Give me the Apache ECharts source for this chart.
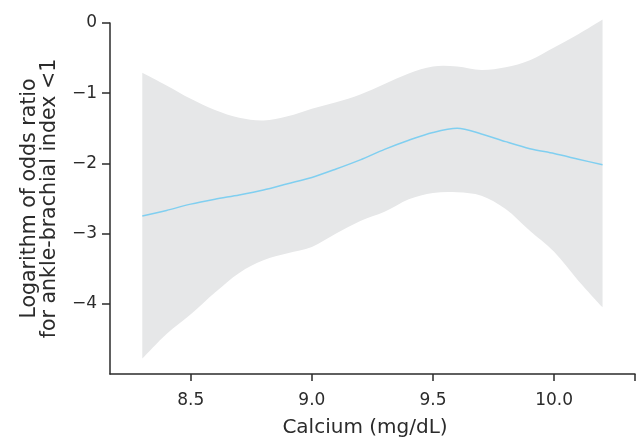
<!DOCTYPE html>
<html>
<head>
<meta charset="utf-8">
<script src="https://cdn.jsdelivr.net/npm/echarts@6/dist/echarts.min.js"></script>
<style>
html, body { margin: 0; padding: 0; background: #fff; }
#chart { width: 638px; height: 442px; }
</style>
</head>
<body>
<div id="chart"></div>
<script>
// calcium values (mg/dL)
var calcium = [8.3, 8.4, 8.5, 8.6, 8.7, 8.8, 8.9, 9.0, 9.1, 9.2, 9.3, 9.4, 9.5, 9.6, 9.7, 9.8, 9.9, 10.0, 10.1, 10.2];
// log odds estimate
var logOdds = [-2.75, -2.67, -2.58, -2.51, -2.45, -2.38, -2.29, -2.20, -2.08, -1.95, -1.80, -1.67, -1.56, -1.50, -1.58, -1.69, -1.79, -1.86, -1.94, -2.02];
// confidence band
var upper = [-0.71, -0.89, -1.08, -1.24, -1.35, -1.39, -1.33, -1.22, -1.13, -1.02, -0.87, -0.72, -0.62, -0.62, -0.67, -0.63, -0.53, -0.35, -0.16, 0.05];
var lower = [-4.78, -4.43, -4.15, -3.84, -3.56, -3.38, -3.28, -3.19, -3.00, -2.82, -2.69, -2.51, -2.42, -2.41, -2.46, -2.65, -2.96, -3.26, -3.67, -4.05];
var xTicks = [8.5, 9.0, 9.5, 10.0];
var yTicks = [0, -1, -2, -3, -4];

var font = 'DejaVu Sans, sans-serif';
var axisColor = '#2b2b2b';

var chart = echarts.init(document.getElementById('chart'));

// catmull-rom edge as bezier segments (pixel points come from api.coord)
function curve(pts) {
    var s = '';
    for (var i = 0; i < pts.length - 1; i++) {
        var p0 = pts[Math.max(i - 1, 0)], p1 = pts[i], p2 = pts[i + 1], p3 = pts[Math.min(i + 2, pts.length - 1)];
        var c1 = [p1[0] + (p2[0] - p0[0]) / 6, p1[1] + (p2[1] - p0[1]) / 6];
        var c2 = [p2[0] - (p3[0] - p1[0]) / 6, p2[1] - (p3[1] - p1[1]) / 6];
        s += ' C' + c1[0] + ',' + c1[1] + ' ' + c2[0] + ',' + c2[1] + ' ' + p2[0] + ',' + p2[1];
    }
    return s;
}

chart.setOption({
    backgroundColor: '#fff',
    animation: false,
    grid: {
        left: 110,
        right: 3,
        top: 23,
        bottom: 68,
        containLabel: false,
        outerBoundsMode: 'none'
    },
    xAxis: {
        type: 'value',
        min: 8.1667,
        max: 10.334,
        name: 'Calcium (mg/dL)',
        nameLocation: 'middle',
        nameGap: 44,
        nameTextStyle: { fontFamily: font, fontSize: 20, color: axisColor, padding: [0, 15, 0, 0] },
        axisLine: { onZero: false, lineStyle: { color: axisColor, width: 1.5 } },
        axisTick: {
            show: true,
            length: 7,
            customValues: xTicks.concat([10.333]),
            lineStyle: { color: axisColor, width: 1.5 }
        },
        axisLabel: {
            customValues: xTicks,
            margin: 18,
            fontFamily: font,
            fontSize: 17,
            color: axisColor,
            formatter: function (v) { return v.toFixed(1); }
        },
        splitLine: { show: false }
    },
    yAxis: {
        type: 'value',
        min: -5,
        max: 0,
        name: 'Logarithm of odds ratio\nfor ankle-brachial index <1',
        nameLocation: 'middle',
        nameGap: 50,
        nameTextStyle: { fontFamily: font, fontSize: 20.5, color: axisColor, lineHeight: 20 },
        axisLine: { show: true, onZero: false, lineStyle: { color: axisColor, width: 1.5 } },
        axisTick: {
            show: true,
            length: 8,
            customValues: yTicks,
            lineStyle: { color: axisColor, width: 1.5 }
        },
        axisLabel: {
            customValues: yTicks,
            margin: 13,
            fontFamily: font,
            fontSize: 17,
            color: axisColor,
            formatter: function (v) { return v < 0 ? '\u2212' + Math.abs(v) : String(v); }
        },
        splitLine: { show: false }
    },
    series: [
        {
            name: 'band',
            type: 'custom',
            data: [0],
            renderItem: function (params, api) {
                var top = calcium.map(function (x, i) { return api.coord([x, upper[i]]); });
                var bottom = calcium.map(function (x, i) { return api.coord([x, lower[i]]); }).reverse();
                var d = 'M' + top[0][0] + ',' + top[0][1] + curve(top) +
                    ' L' + bottom[0][0] + ',' + bottom[0][1] + curve(bottom) + ' Z';
                return {
                    type: 'path',
                    shape: { pathData: d },
                    style: { fill: '#e6e7e8', stroke: null }
                };
            },
            silent: true,
            z: 1
        },
        {
            name: 'estimate',
            type: 'line',
            symbol: 'none',
            smooth: 0.3,
            lineStyle: { color: '#80cff0', width: 1.5 },
            data: calcium.map(function (x, i) { return [x, logOdds[i]]; }),
            z: 3
        }
    ]
});
</script>
</body>
</html>
